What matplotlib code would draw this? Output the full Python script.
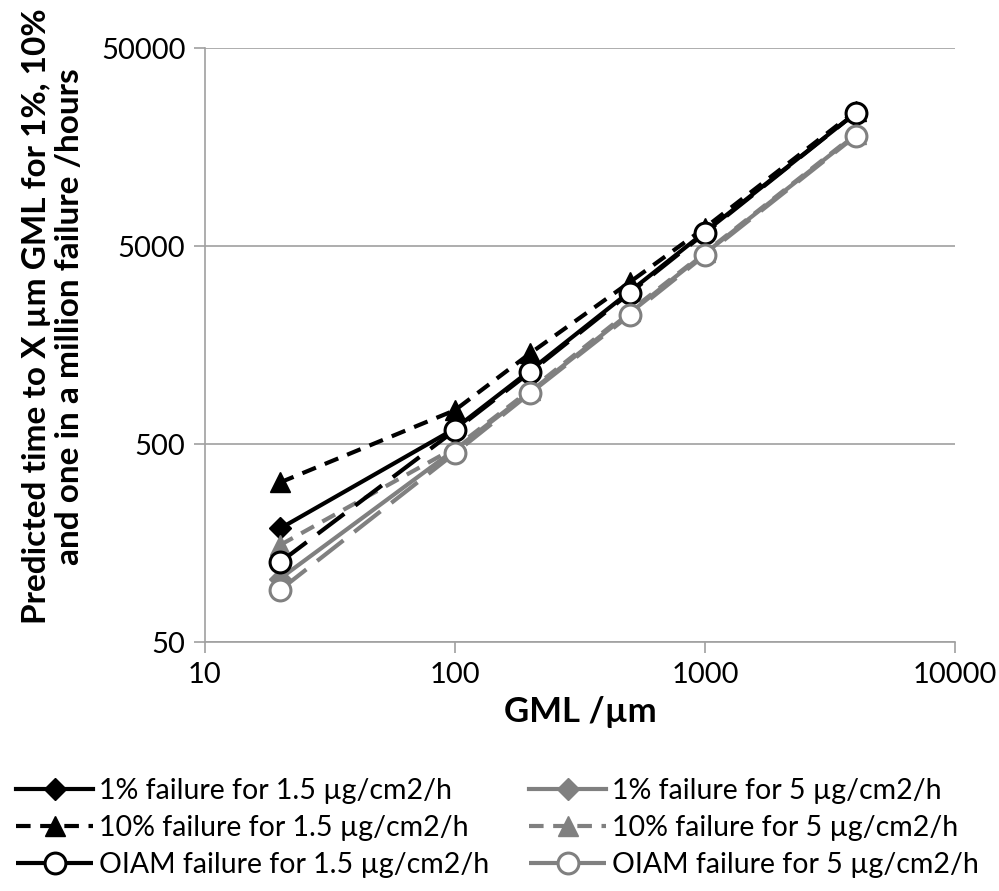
import matplotlib.pyplot as plt
from matplotlib.ticker import FixedLocator, FixedFormatter, NullLocator

plt.rcParams['font.family'] = ['Lato', 'DejaVu Sans']

# GML values (µm) and predicted times (hours)
gml = [20, 100, 200, 500, 1000, 4000]
p1_low = [188, 600, 1180, 2950, 5900, 23500]
p10_low = [321, 743, 1440, 3290, 6200, 24000]
oiam_low = [127, 588, 1156, 2900, 5820, 23480]
p1_high = [105, 470, 920, 2300, 4600, 18200]
p10_high = [155, 480, 940, 2350, 4650, 18400]
oiam_high = [92, 451, 906, 2242, 4505, 17975]

labels = ['1% failure for 1.5 µg/cm2/h', '1% failure for 5 µg/cm2/h',
          '10% failure for 1.5 µg/cm2/h', '10% failure for 5 µg/cm2/h',
          'OIAM failure for 1.5 µg/cm2/h', 'OIAM failure for 5 µg/cm2/h']

x_ticks = [10, 100, 1000, 10000]
y_ticks = [50, 500, 5000, 50000]

black = '#000000'
grey = '#808080'

fig = plt.figure(figsize=(9.99, 8.91), dpi=100)
ax = fig.add_axes([0.205, 0.279, 0.751, 0.667])

lw = 3
short_dash = (0, (3.5, 2.3))
long_dash = (0, (8, 3.3))

h1, = ax.plot(gml, p1_low, color=black, lw=lw, marker='D', ms=11,
              mfc=black, mec=black, label=labels[0])
h2, = ax.plot(gml, p1_high, color=grey, lw=lw, marker='D', ms=11,
              mfc=grey, mec=grey, label=labels[1])
h3, = ax.plot(gml, p10_low, color=black, lw=lw, ls=short_dash, marker='^', ms=15,
              mfc=black, mec=black, label=labels[2])
h4, = ax.plot(gml, p10_high, color=grey, lw=lw, ls=short_dash, marker='^', ms=15,
              mfc=grey, mec=grey, label=labels[3])
h5, = ax.plot(gml, oiam_low, color=black, lw=lw, ls=long_dash, marker='o', ms=15,
              mfc='white', mec=black, mew=2.2, label=labels[4])
h6, = ax.plot(gml, oiam_high, color=grey, lw=lw, ls=long_dash, marker='o', ms=15,
              mfc='white', mec=grey, mew=2.2, label=labels[5])

ax.set_xscale('log')
ax.set_yscale('log')
ax.set_xlim(10, 10000)
ax.set_ylim(50, 50000)
ax.xaxis.set_major_locator(FixedLocator(x_ticks))
ax.xaxis.set_major_formatter(FixedFormatter([str(v) for v in x_ticks]))
ax.yaxis.set_major_locator(FixedLocator(y_ticks))
ax.yaxis.set_major_formatter(FixedFormatter([str(v) for v in y_ticks]))
ax.xaxis.set_minor_locator(NullLocator())
ax.yaxis.set_minor_locator(NullLocator())

ax.grid(True, axis='y', color='#a0a0a0', lw=1.2)
ax.set_axisbelow(True)
for s in ['top', 'right']:
    ax.spines[s].set_visible(False)
for s in ['left', 'bottom']:
    ax.spines[s].set_color('#a0a0a0')
    ax.spines[s].set_linewidth(1.2)
ax.tick_params(axis='both', colors='#a0a0a0', labelcolor='black',
               labelsize=21, length=8, width=1.2, pad=6)

ax.set_xlabel('GML /µm', fontsize=25, fontweight='bold', labelpad=6)
fig.text(0.053, 0.645, 'Predicted time to X µm GML for 1%, 10%\nand one in a million failure /hours',
         rotation=90, ha='center', va='center', multialignment='center',
         fontsize=24, fontweight='bold', linespacing=1.15)

fig.legend([h1, h3, h5, h2, h4, h6],
           [labels[0], labels[2], labels[4], labels[1], labels[3], labels[5]],
           ncol=2, loc='upper left', bbox_to_anchor=(0.005, 0.14),
           frameon=False, fontsize=20.5, handlelength=2.7, handletextpad=0.2,
           columnspacing=1.4, labelspacing=0.4, borderaxespad=0)

fig.savefig('out.png', dpi=100)
